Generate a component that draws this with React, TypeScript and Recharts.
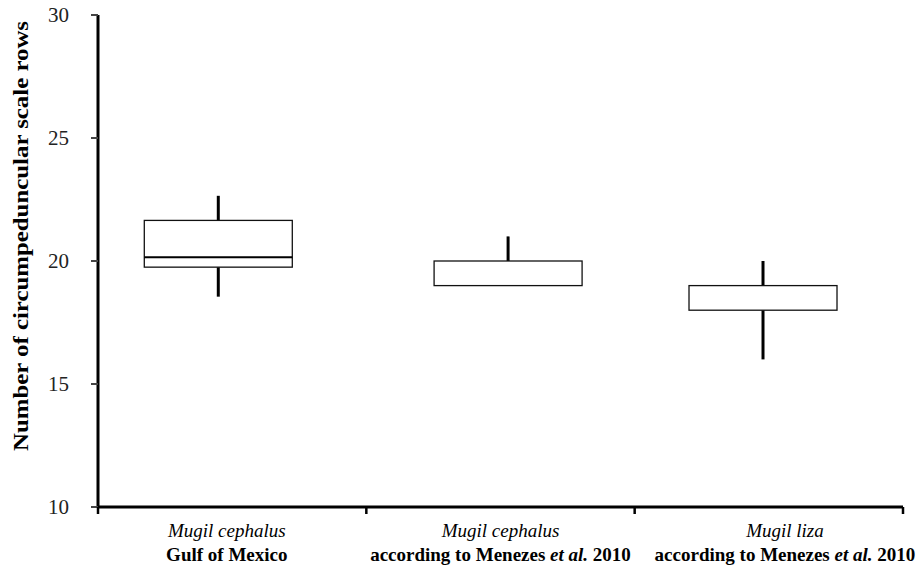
import { Bar, ComposedChart, XAxis, YAxis } from 'recharts';

const speciesNames = ['Mugil cephalus', 'Mugil cephalus', 'Mugil liza'];
const sourceNames = ['Gulf of Mexico', 'according to Menezes', 'according to Menezes'];
const labelPositions = [0.48, 1.5, 2.56];
const positions = [0.45, 1.53, 2.48];
const whiskerLow = [18.55, 19, 16];
const boxLow = [19.75, 19, 18];
const medians = [20.15, 20, 19];
const boxHigh = [21.65, 20, 19];
const whiskerHigh = [22.65, 21, 20];
const yTicks = [10, 15, 20, 25, 30];
const groupEdges = [0, 1, 2, 3];

const data = positions.map((pos, i) => ({
  pos,
  min: whiskerLow[i],
  q1: boxLow[i],
  median: medians[i],
  q3: boxHigh[i],
  max: whiskerHigh[i],
}));

const SERIF = "'Liberation Serif', 'Times New Roman', Times, serif";

function BoxShape(props: any) {
  const { x, y, width, height, payload } = props;
  const top = Math.min(y, y + height);
  const h = Math.abs(height);
  const ppu = h / (payload.q3 - payload.q1);
  const cx = x + width / 2;
  const yMax = top - (payload.max - payload.q3) * ppu;
  const yMin = top + h + (payload.q1 - payload.min) * ppu;
  const yMed = top + (payload.q3 - payload.median) * ppu;
  return (
    <g>
      <line x1={cx} x2={cx} y1={yMax} y2={top} stroke="#000" strokeWidth={3} />
      <line x1={cx} x2={cx} y1={top + h} y2={yMin} stroke="#000" strokeWidth={3} />
      <rect x={x} y={top} width={width} height={h} fill="#fff" stroke="#111" strokeWidth={1.3} />
      {payload.median !== payload.q3 && payload.median !== payload.q1 && (
        <line x1={x} x2={x + width} y1={yMed} y2={yMed} stroke="#000" strokeWidth={2} />
      )}
    </g>
  );
}

function XTick(props: any) {
  const { x, y, payload } = props;
  const v = payload.value;
  const i = labelPositions.indexOf(v);
  if (i < 0) {
    return <line x1={x} x2={x} y1={y} y2={y + 7} stroke="#000" strokeWidth={2.5} />;
  }
  return (
    <text x={x} y={y} textAnchor="middle" style={{ fontFamily: SERIF, fontSize: 19 }} fill="#000">
      <tspan x={x} dy={30} fontStyle="italic">
        {speciesNames[i]}
      </tspan>
      {i === 0 ? (
        <tspan x={x} dy={24} fontWeight="bold">
          {sourceNames[i]}
        </tspan>
      ) : (
        <tspan x={x} dy={24} fontWeight="bold">
          {sourceNames[i] + ' '}
          <tspan fontStyle="italic">et al.</tspan>
          {' 2010'}
        </tspan>
      )}
    </text>
  );
}

function YLabel() {
  return (
    <text
      x={28}
      y={236}
      transform="rotate(-90, 28, 236)"
      textAnchor="middle"
      textLength={430}
      lengthAdjust="spacingAndGlyphs"
      style={{ fontFamily: SERIF, fontWeight: 'bold', fontSize: 22 }}
      fill="#000"
    >
      Number of circumpeduncular scale rows
    </text>
  );
}

export default function App() {
  return (
    <div style={{ position: 'absolute', left: 0, top: 0, background: '#fff' }}>
      <ComposedChart width={923} height={566} data={data} margin={{ top: 15, right: 20, bottom: 0, left: 0 }}>
        <XAxis
          dataKey="pos"
          type="number"
          domain={[0, 3]}
          ticks={[...groupEdges, ...labelPositions]}
          interval={0}
          height={59}
          tickLine={false}
          tickSize={0}
          tickMargin={0}
          axisLine={{ stroke: '#000', strokeWidth: 3 }}
          tick={<XTick />}
        />
        <YAxis
          type="number"
          domain={[10, 30]}
          ticks={yTicks}
          interval={0}
          width={98}
          tickSize={7}
          tickMargin={22}
          axisLine={{ stroke: '#000', strokeWidth: 3 }}
          tickLine={{ stroke: '#444', strokeWidth: 2 }}
          tick={{ fontFamily: SERIF, fontSize: 21, fill: '#222', style: { fontFamily: SERIF } }}
          label={<YLabel />}
        />
        <Bar
          dataKey={(d: any) => [d.q1, d.q3]}
          barSize={148}
          shape={<BoxShape />}
          isAnimationActive={false}
        />
      </ComposedChart>
    </div>
  );
}
